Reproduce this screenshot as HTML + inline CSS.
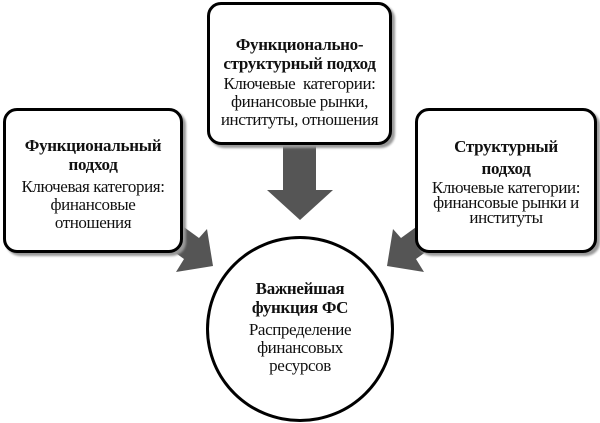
<!DOCTYPE html>
<html><head><meta charset="utf-8"><style>
body{margin:0;width:600px;height:423px;background:#fff;position:relative;overflow:hidden;font-family:"Liberation Serif",serif;color:#111}
.box{position:absolute;border:3px solid #000;border-radius:14px;background:#fff;box-sizing:border-box;text-align:center;box-shadow:3px 3px 2px #999;white-space:nowrap}
.t{font-weight:bold;font-size:17px;line-height:19px;letter-spacing:-0.3px}
.b{font-size:17px;line-height:18px;letter-spacing:-0.4px}
.circ{position:absolute;left:206px;top:236px;width:188px;height:186px;border:3px solid #000;border-radius:50%;box-sizing:border-box;background:#fff;text-align:center}
</style></head><body>
<svg width="600" height="423" style="position:absolute;left:0;top:0">
<polygon fill="#555" points="283,140 316,140 316,190 333,190 300,220 267,190 283,190"/>
<polygon fill="#555" points="144,230 159,209 199,238 207,229 213,266 176,272 184,259"/>
<polygon fill="#555" points="456,230 441,209 401,238 393,229 387,266 424,272 416,259"/>
</svg>
<div class="box" style="left:207px;top:2px;width:185px;height:143px;padding-top:30px">
<div class="t">Функционально-<br>структурный подход</div>
<div class="b" style="margin-top:2px">Ключевые&nbsp; категории:<br>финансовые рынки,<br>институты, отношения</div></div>
<div class="box" style="left:3px;top:108px;width:180px;height:145px;padding-top:25px">
<div class="t">Функциональный<br>подход</div>
<div class="b" style="margin-top:4px">Ключевая категория:<br>финансовые<br>отношения</div></div>
<div class="box" style="left:415px;top:108px;width:182px;height:145px;padding-top:25px">
<div class="t" style="line-height:22px">Структурный<br>подход</div>
<div class="b" style="margin-top:0px;line-height:15px">Ключевые категории:<br>финансовые рынки и<br>институты</div></div>
<div class="circ"><div style="padding-top:40px">
<div class="t">Важнейшая<br>функция ФС</div>
<div class="b" style="margin-top:4px">Распределение<br>финансовых<br>ресурсов</div></div></div>
</body></html>
